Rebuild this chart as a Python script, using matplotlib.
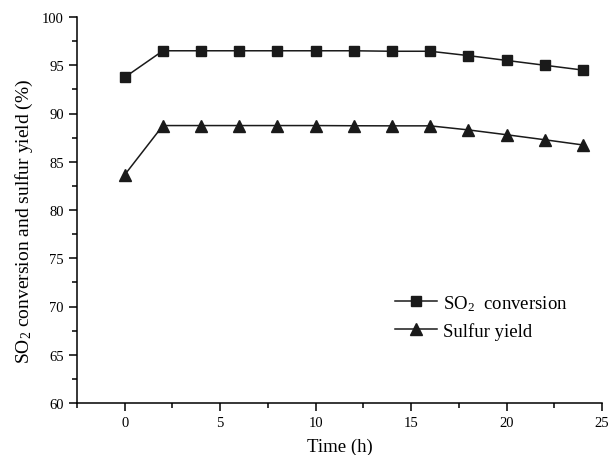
import numpy as np
import matplotlib.pyplot as plt
from matplotlib.ticker import MultipleLocator

plt.rcParams['font.family'] = ['Liberation Serif', 'DejaVu Serif']
plt.rcParams['mathtext.fontset'] = 'custom'
plt.rcParams['mathtext.rm'] = 'Liberation Serif'
plt.rcParams['mathtext.it'] = 'Liberation Serif:italic'

time_h = [0, 2, 4, 6, 8, 10, 12, 14, 16, 18, 20, 22, 24]
so2_conv = [93.75, 96.5, 96.5, 96.5, 96.5, 96.5, 96.5, 96.45, 96.45, 96.0, 95.5, 95.0, 94.5]
sulfur_yield = [83.65, 88.75, 88.75, 88.75, 88.75, 88.75, 88.73, 88.72, 88.72, 88.3, 87.8, 87.28, 86.74]

fig = plt.figure(figsize=(6.1, 4.56), dpi=100)
ax = fig.add_axes([77 / 610, 52 / 456, 525 / 610, 386 / 456])

ax.plot(time_h, so2_conv, color='#1a1a1a', lw=1.1, marker='s', ms=6.7, label='SO$_2$  conversion')
ax.plot(time_h, sulfur_yield, color='#1a1a1a', lw=1.1, marker='^', ms=8, label='Sulfur yield')

ax.set_xlim(-2.5, 25)
ax.set_ylim(60, 100)
ax.xaxis.set_major_locator(MultipleLocator(5))
ax.xaxis.set_minor_locator(MultipleLocator(2.5))
ax.yaxis.set_major_locator(MultipleLocator(5))
ax.yaxis.set_minor_locator(MultipleLocator(2.5))
ax.spines['top'].set_visible(False)
ax.spines['right'].set_visible(False)
for s in ['left', 'bottom']:
    ax.spines[s].set_linewidth(1.1)
ax.tick_params(which='major', direction='out', length=6, width=1.1, labelsize=10.5)
ax.tick_params(which='minor', direction='out', length=3.5, width=1.1)

ax.set_xlabel('Time (h)', fontsize=13.5, labelpad=6)
ax.set_ylabel('SO$_2$ conversion and sulfur yield (%)', fontsize=14, labelpad=5)
ax.yaxis.label.set_y(0.474)

ax.legend(loc='upper left', bbox_to_anchor=(395 / 610, 1 - 294 / 456), bbox_transform=fig.transFigure,
          frameon=False, fontsize=13.5, borderpad=0, borderaxespad=0,
          handlelength=2.24, handletextpad=0.3, labelspacing=0.5)

fig.savefig('out.png', dpi=100)
